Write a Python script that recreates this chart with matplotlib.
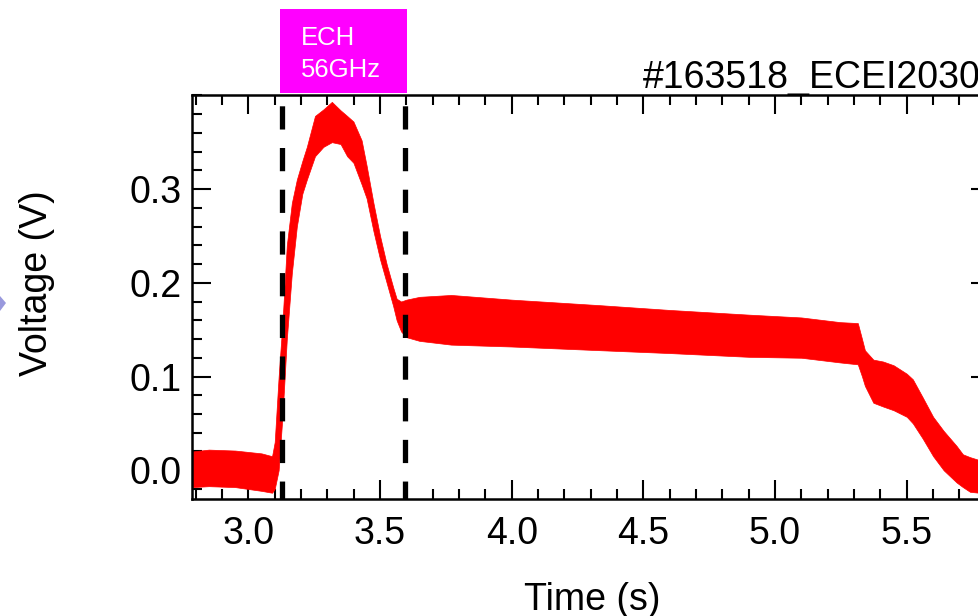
import matplotlib
matplotlib.use("Agg")
import matplotlib.pyplot as plt
from matplotlib.patches import Rectangle, Polygon
from matplotlib.ticker import MultipleLocator

plt.rcParams['font.family'] = ['Liberation Sans', 'DejaVu Sans']

# envelope of the noisy signal (time in s, volts)
time_s = [2.786, 2.85, 2.95, 3.05, 3.09, 3.10, 3.115, 3.13, 3.146, 3.165,
          3.184, 3.205, 3.222, 3.253, 3.285, 3.317, 3.35, 3.375, 3.399, 3.43,
          3.449, 3.475, 3.5, 3.525, 3.55, 3.563, 3.58, 3.6, 3.65, 3.77,
          4.0, 4.34, 4.6, 4.9, 5.1, 5.247, 5.314, 5.33, 5.341, 5.373,
          5.41, 5.45, 5.5, 5.523, 5.56, 5.6, 5.64, 5.689, 5.713, 5.74,
          5.774, 5.82]
v_upper = [0.020, 0.022, 0.021, 0.018, 0.015, 0.03, 0.10, 0.16, 0.24, 0.285,
           0.31, 0.33, 0.345, 0.378, 0.385, 0.393, 0.384, 0.378, 0.372, 0.352,
           0.325, 0.285, 0.25, 0.22, 0.195, 0.183, 0.18, 0.182, 0.185, 0.187,
           0.182, 0.176, 0.171, 0.166, 0.163, 0.158, 0.157, 0.14, 0.128, 0.118,
           0.116, 0.112, 0.103, 0.097, 0.078, 0.057, 0.042, 0.026, 0.017, 0.014,
           0.011, 0.008]
v_lower = [-0.018, -0.017, -0.018, -0.022, -0.024, -0.02, 0.0, 0.06, 0.14, 0.21,
           0.26, 0.295, 0.31, 0.335, 0.345, 0.35, 0.348, 0.335, 0.328, 0.305,
           0.29, 0.255, 0.225, 0.2, 0.175, 0.16, 0.148, 0.142, 0.138, 0.134,
           0.132, 0.128, 0.125, 0.121, 0.12, 0.115, 0.113, 0.1, 0.09, 0.072,
           0.068, 0.064, 0.057, 0.05, 0.034, 0.015, 0.0, -0.013, -0.018, -0.023,
           -0.024, -0.025]

ech_times = [3.128, 3.595]   # ECH on / off
x_ticks = [3.0, 3.5, 4.0, 4.5, 5.0, 5.5]
y_ticks = [0.0, 0.1, 0.2, 0.3]

W, H = 979, 616


def fx(px):
    return px / W


def fy(py):
    return 1 - py / H


fig = plt.figure(figsize=(W / 100, H / 100), dpi=100)
ax = fig.add_axes([fx(192), fy(499.3), fx(990) - fx(192), fy(95.3) - fy(499.3)])

ax.fill_between(time_s, v_lower, v_upper, color='#ff0000', lw=0.5, zorder=2)

for t in ech_times:
    ax.axvline(t, color='black', lw=3.8, ls=(1.0, (4.4, 3.5)), zorder=3)

ax.set_xlim(2.786, 5.816)
ax.set_ylim(-0.031, 0.400)
ax.set_xticks(x_ticks)
ax.set_xticklabels([f"{v:.1f}" for v in x_ticks])
ax.set_yticks(y_ticks)
ax.set_yticklabels([f"{v:.1f}" for v in y_ticks])
ax.xaxis.set_minor_locator(MultipleLocator(0.1))
ax.yaxis.set_minor_locator(MultipleLocator(0.02))

ax.tick_params(which='both', direction='in', top=True, right=True, width=1.5, color='black')
ax.tick_params(which='major', length=14, labelsize=27)
ax.tick_params(which='minor', length=7.5)
ax.tick_params(axis='x', which='major', pad=12.3)
ax.tick_params(axis='y', which='major', pad=7.4)
for s in ax.spines.values():
    s.set_linewidth(1.8)

# axis labels and title
fig.text(fx(592), fy(610), "Time (s)", fontsize=27, ha='center', va='baseline')
fig.text(fx(37), fy(283), "Voltage (V)", fontsize=27, rotation=90, ha='center', va='center')
fig.text(fx(642.7), fy(87.7), "#163518_ECEI2030", fontsize=27, ha='left', va='baseline')

# ECH box
fig.patches.append(Rectangle((fx(280), fy(93.3)), fx(406.7) - fx(280), fy(9) - fy(93.3),
                             transform=fig.transFigure, facecolor='#ff00ff', edgecolor='none'))
fig.text(fx(300.7), fy(45), "ECH", fontsize=18.5, color='white', ha='left', va='baseline')
fig.text(fx(300.7), fy(77), "56GHz", fontsize=18.5, color='white', ha='left', va='baseline')

# bit of slide decoration at the left edge
fig.patches.append(Polygon([(fx(-6), fy(303)), (fx(0), fy(296)), (fx(6), fy(303)), (fx(0), fy(311))],
                           closed=True, transform=fig.transFigure, facecolor='#9999dd', edgecolor='none'))

fig.savefig("out.png", dpi=100)
